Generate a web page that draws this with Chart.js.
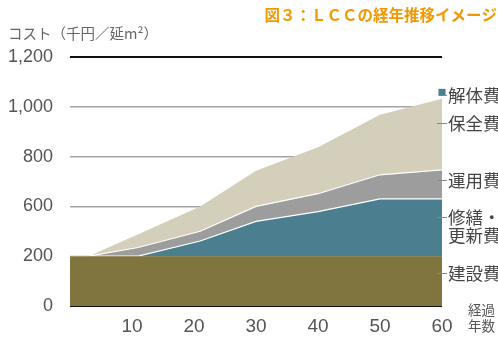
<!DOCTYPE html>
<html>
<head>
<meta charset="utf-8">
<script src="https://cdn.jsdelivr.net/npm/chart.js@4/dist/chart.umd.min.js"></script>
<style>
  body { margin: 0; background: #fff; }
  canvas { display: block; }
</style>
</head>
<body>
<canvas id="lcc-chart" width="498" height="341"></canvas>
<script>
// 経過年数
const years = [0, 3, 11, 21, 30, 40, 50, 60];
// 各費目の上端（積み上げ後の累計値、千円／延m2）
const constructionTop = [200, 200, 200, 200, 200, 200, 200, 200];
const repairTop = [200, 200, 200, 322, 480, 558, 630, 630];
const operationTop = [200, 200, 270, 400, 600, 651, 727, 747];
const maintenanceTop = [200, 200, 376, 600, 743, 838, 968, 1032];
// 解体費（60年目のみ）
const demolitionYear = [60];
const demolitionTop = [1058];

// 縦軸の目盛（400は省略されている）
const yTickValues = [0, 200, 600, 800, 1000, 1200];
const yTickLabels = ['0', '200', '600', '800', '1,000', '1,200'];
const xTickLabels = ['10', '20', '30', '40', '50', '60'];

const sideLabels = [
    { lines: ['解体費'], y: 95 },
    { lines: ['保全費'], y: 123 },
    { lines: ['運用費'], y: 180 },
    { lines: ['修繕・', '更新費'], y: 217 },
    { lines: ['建設費'], y: 273 }
];

// 実際の値 → 軸上の位置（目盛が等間隔なので区間ごとに直線補間）
function toAxis(v) {
    for (let i = 1; i < yTickValues.length; i++) {
        if (v <= yTickValues[i]) {
            const a = yTickValues[i - 1], b = yTickValues[i];
            return (i - 1) + (v - a) / (b - a);
        }
    }
    return yTickValues.length - 1;
}

function points(values, xs) {
    xs = xs || years;
    return values.map((v, i) => ({ x: xs[i], y: toAxis(v) }));
}

const jp = '"Noto Sans CJK JP", "Noto Sans", sans-serif';

const textPlugin = {
    id: 'lccText',
    afterDraw(chart) {
        const ctx = chart.ctx;
        const area = chart.chartArea;
        ctx.save();
        // タイトル
        ctx.fillStyle = '#f39800';
        ctx.font = 'bold 15.5px ' + jp;
        ctx.textAlign = 'right';
        ctx.textBaseline = 'middle';
        ctx.fillText('図３：ＬＣＣの経年推移イメージ', 497, 15);
        // 縦軸タイトル
        ctx.fillStyle = '#666';
        ctx.font = '14.5px ' + jp;
        ctx.textAlign = 'left';
        ctx.fillText('コスト（千円／延m²）', 8, 33);
        // 右側の凡例
        ctx.font = '17.5px ' + jp;
        ctx.fillStyle = '#444';
        ctx.strokeStyle = '#888';
        ctx.lineWidth = 1;
        sideLabels.forEach((lab, k) => {
            ctx.beginPath();
            ctx.moveTo(k === 0 ? area.right : area.right - 5, lab.y + 0.5);
            ctx.lineTo(area.right + 5, lab.y + 0.5);
            ctx.stroke();
            lab.lines.forEach((t, j) => {
                ctx.fillText(t, area.right + 6, lab.y + j * 18);
            });
        });
        // 横軸タイトル
        ctx.font = '13.5px ' + jp;
        ctx.fillStyle = '#555';
        ctx.fillText('経過', area.right + 26, 310);
        ctx.fillText('年数', area.right + 26, 326);
        ctx.restore();
    }
};

const ctx = document.getElementById('lcc-chart').getContext('2d');

new Chart(ctx, {
    type: 'line',
    data: {
        datasets: [
            {
                label: '建設費',
                data: points(constructionTop),
                backgroundColor: '#80743f',
                borderWidth: 0,
                fill: 'origin'
            },
            {
                label: '修繕・更新費',
                data: points(repairTop),
                backgroundColor: '#4b7e8f',
                borderColor: '#ffffff',
                borderWidth: 1.2,
                fill: '-1'
            },
            {
                label: '運用費',
                data: points(operationTop),
                backgroundColor: '#9d9d9d',
                borderColor: '#ffffff',
                borderWidth: 1.2,
                fill: '-1'
            },
            {
                label: '保全費',
                data: points(maintenanceTop),
                backgroundColor: '#d3cfbb',
                borderWidth: 0,
                fill: '-1'
            },
            {
                label: '解体費',
                data: points(demolitionTop, demolitionYear),
                showLine: false,
                pointStyle: 'rect',
                pointRadius: 5,
                pointBackgroundColor: '#4b7e8f',
                pointBorderWidth: 0,
                clip: false
            }
        ]
    },
    options: {
        responsive: false,
        animation: false,
        layout: { padding: { top: 57, right: 56, bottom: 0, left: 0 } },
        elements: { point: { radius: 0 }, line: { tension: 0 } },
        plugins: {
            legend: { display: false },
            tooltip: { enabled: false }
        },
        scales: {
            x: {
                type: 'linear',
                min: 0,
                max: 60,
                grid: { display: false },
                border: { display: false },
                ticks: {
                    stepSize: 10,
                    padding: 1,
                    color: '#555',
                    font: { family: '"Liberation Sans", Arial, sans-serif', size: 19 },
                    callback: (v) => (v === 0 ? '' : xTickLabels[v / 10 - 1])
                },
                afterFit: (s) => { s.height = 35; }
            },
            y: {
                min: 0,
                max: yTickValues.length - 1,
                z: 1,
                border: { display: false },
                grid: {
                    drawTicks: false,
                    color: (c) => (c.index === 0 || c.index === yTickValues.length - 1 ? '#111' : '#a3a3a3'),
                    lineWidth: (c) => (c.index === 0 || c.index === yTickValues.length - 1 ? 2 : 1.5)
                },
                ticks: {
                    stepSize: 1,
                    padding: 17,
                    color: '#555',
                    font: { family: '"Liberation Sans", Arial, sans-serif', size: 18 },
                    callback: (v) => yTickLabels[v]
                },
                afterFit: (s) => { s.width = 70; }
            }
        }
    },
    plugins: [textPlugin]
});
</script>
</body>
</html>
